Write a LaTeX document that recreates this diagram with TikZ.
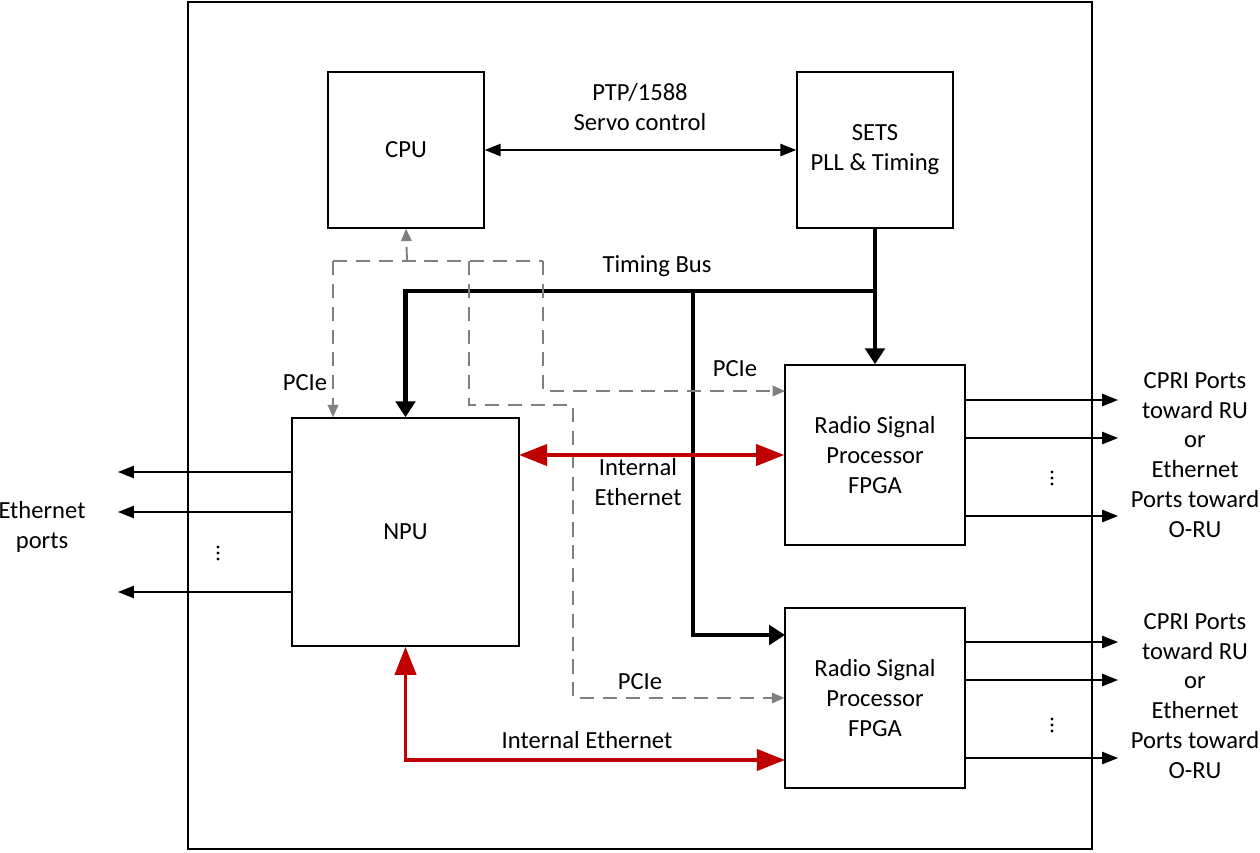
\documentclass[tikz,border=0pt]{standalone}
\usepackage{fontspec}
\setmainfont{Carlito}
\usepackage{tikz}
\usetikzlibrary{positioning, arrows.meta, calc}
\usepackage{xcolor}
\definecolor{ethred}{RGB}{192,0,0}
\definecolor{pciegray}{RGB}{128,128,128}

\begin{document}
\begin{tikzpicture}[
        x=0.02cm, y=-0.02cm,
        box/.style={draw, line width=0.9pt, align=center, inner sep=0pt},
        lbl/.style={align=center, inner sep=0pt},
        port/.style={line width=0.8pt, -{Triangle[length=9pt, width=7pt]}},
        bus/.style={line width=2.3pt, -{Triangle[length=9pt, width=11pt]}},
        pcie/.style={pciegray, line width=1.1pt, dash pattern=on 8pt off 5pt,
          -{Triangle[length=7pt, width=6pt]}},
        eth/.style={ethred, line width=2.2pt, {Triangle[length=16pt, width=12pt]}-{Triangle[length=16pt, width=12pt]}},
        every node/.style={font=\fontsize{14}{17}\selectfont}
      ]
      \useasboundingbox (0,0) rectangle (1260,852);
      \draw[line width=1.2pt] (188,2) rectangle (1092,849);

      \node[box, minimum width=3.12cm, minimum height=3.12cm] (cpu)   at (406,150)   {CPU};
      \node[box, minimum width=3.12cm, minimum height=3.12cm] (sets)  at (875,150)   {SETS\\PLL \& Timing};
      \node[box, minimum width=4.54cm, minimum height=4.56cm] (npu)   at (405.5,532) {NPU};
      \node[box, minimum width=3.6cm,  minimum height=3.6cm]  (fpga1) at (875,455)   {Radio Signal\\Processor\\FPGA};
      \node[box, minimum width=3.6cm,  minimum height=3.6cm]  (fpga2) at (875,698)   {Radio Signal\\Processor\\FPGA};

      \node[lbl] (ptp)   at (640,107) {PTP/1588\\Servo control};
      \node[lbl] (tbus)  at (657,266) {Timing Bus};
      \node[lbl] (pcie0) at (305,383) {PCIe};
      \node[lbl] (pcie1) at (735,369) {PCIe};
      \node[lbl] (pcie2) at (640,682) {PCIe};
      \node[lbl] (ieth1) at (638,482) {Internal\\Ethernet};
      \node[lbl] (ieth2) at (587,740) {Internal Ethernet};
      \node[lbl] (eports) at (42,527) {Ethernet\\ports};
      \node[lbl] (oports1) at (1195,455) {CPRI Ports\\toward RU\\or\\Ethernet\\Ports toward\\O-RU};
      \node[lbl] (oports2) at (1195,696) {CPRI Ports\\toward RU\\or\\Ethernet\\Ports toward\\O-RU};

      \foreach \x/\y in {218/553, 1052/478, 1052/725}
        \foreach \d in {-6,0,6}
          \fill (\x,\y+\d) circle (1.6);

      \draw[line width=0.8pt, {Triangle[length=9pt, width=7pt]}-{Triangle[length=9pt, width=7pt]}] (cpu.east) -- (sets.west);

      \coordinate (tb)  at (875,291);
      \coordinate (tbm) at (693,291);
      \coordinate (f2bus) at (785,635);
      \draw[bus] (sets.south) -- (tb) -- (fpga1.north);
      \draw[bus] (tb) -| (npu.north);
      \draw[bus] (tbm) |- (f2bus);

      \coordinate (pj) at (407,261);
      \coordinate (pl) at (333,261);
      \coordinate (pr) at (543,261);
      \coordinate (pm) at (469,261);
      \coordinate (f1pcie) at (785,391);
      \draw[pcie, -] (pl) -- (pr);
      \draw[pcie] (pj) -- (cpu.south);
      \draw[pcie] (pl) -- (pl |- npu.north);
      \draw[pcie] (pr) |- (f1pcie);
      \draw[pcie] (pm) -- (469,405) -- (573,405) |- (fpga2.west);

      \coordinate (n1eth) at (519,455);
      \coordinate (f2eth) at (785,760);
      \draw[eth] (n1eth) -- (fpga1.west);
      \draw[eth] (npu.south) |- (f2eth);

      \foreach \y [count=\i] in {472,512,592} {
        \coordinate (e\i) at (118,\y);
        \draw[port] (npu.west |- e\i) -- (e\i);
      }
      \foreach \y [count=\i] in {400,438,516} {
        \coordinate (r\i) at (1118,\y);
        \draw[port] (fpga1.east |- r\i) -- (r\i);
      }
      \foreach \y [count=\i] in {642,680,758} {
        \coordinate (s\i) at (1118,\y);
        \draw[port] (fpga2.east |- s\i) -- (s\i);
      }
    \end{tikzpicture}
\end{document}
